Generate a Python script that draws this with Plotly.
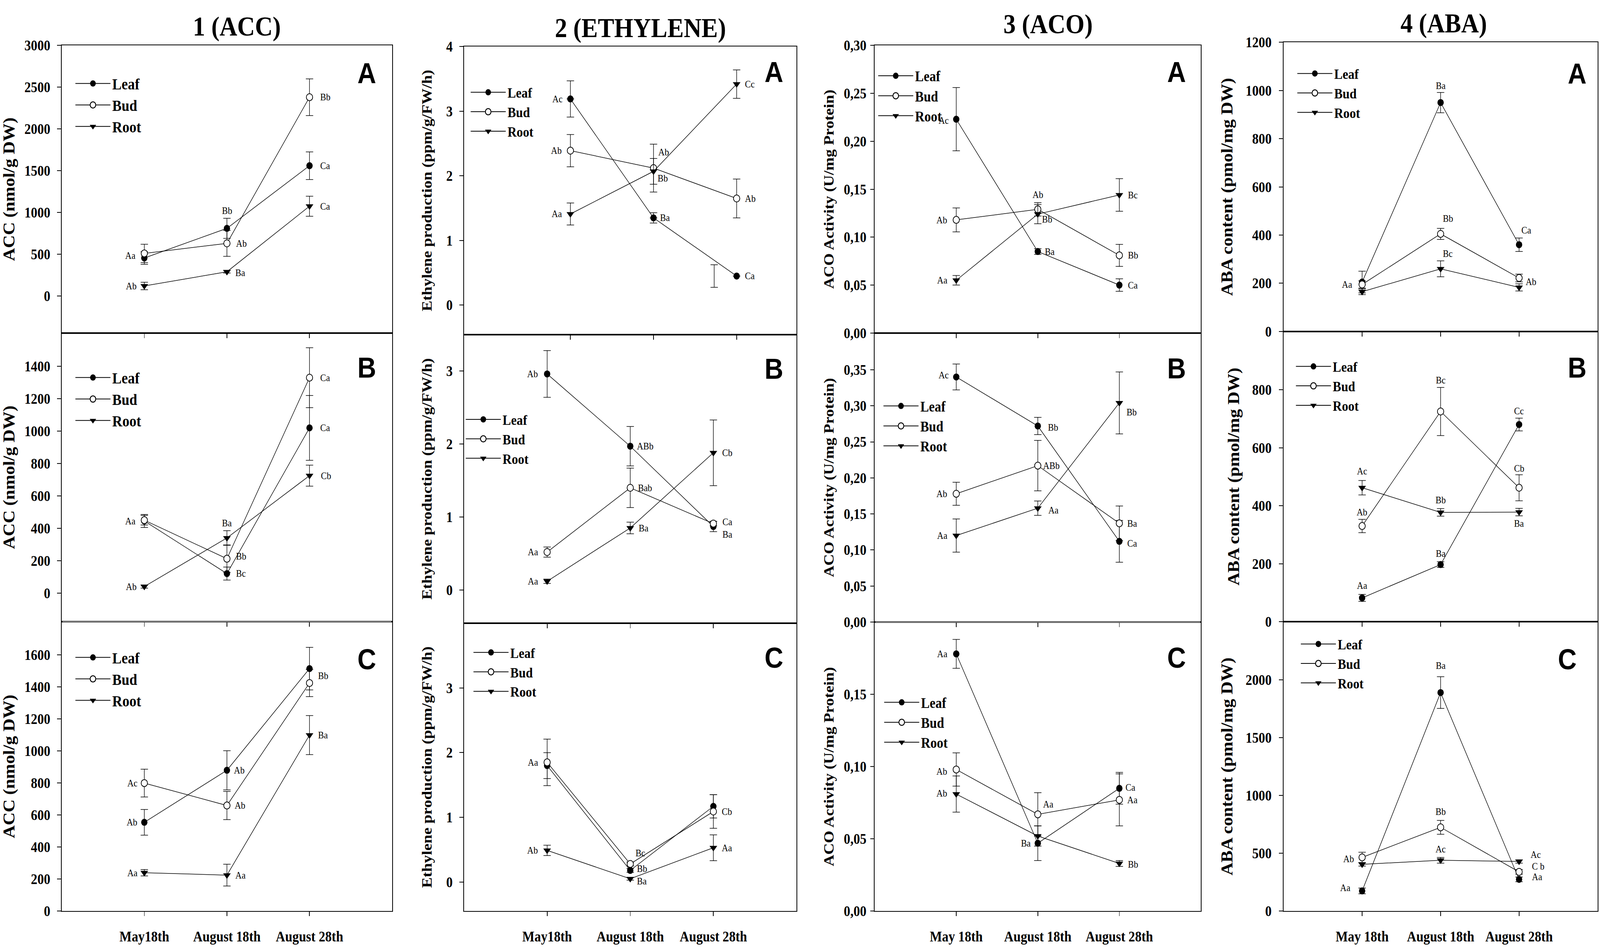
import plotly.graph_objects as go
from plotly.subplots import make_subplots

# ---------------- data ----------------
dates_12 = ["May18th", "August 18th", "August 28th"]
dates_34 = ["May 18th", "August 18th", "August 28th"]
organs = ["Leaf", "Bud", "Root"]

# 1 (ACC)  nmol/g DW
acc_a_leaf = [455, 810, 1560]
acc_a_bud = [510, 630, 2380]
acc_a_root = [120, 290, 1075]
acc_a_leaf_se = [75, 120, 165]
acc_a_bud_se = [110, 155, 220]
acc_a_root_se = [45, 15, 120]
acc_a_sig = [["Aa", "Bb", "Ca"], [None, "Ab", "Bb"], ["Ab", "Ba", "Ca"]]

acc_b_leaf = [445, 120, 1020]
acc_b_bud = [450, 212, 1330]
acc_b_root = [40, 340, 725]
acc_b_leaf_se = [40, 40, 200]
acc_b_bud_se = [30, 85, 185]
acc_b_root_se = [10, 45, 65]
acc_b_sig = [["Aa", "Bc", "Ca"], [None, "Bb", "Ca"], ["Ab", "Ba", "Cb"]]

acc_c_leaf = [555, 880, 1515]
acc_c_bud = [800, 660, 1425]
acc_c_root = [240, 225, 1100]
acc_c_leaf_se = [80, 122, 133]
acc_c_bud_se = [87, 88, 85]
acc_c_root_se = [20, 68, 122]
acc_c_sig = [["Ab", "Ab", None], ["Ac", "Ab", "Bb"], ["Aa", "Aa", "Ba"]]

# 2 (ETHYLENE)  ppm/g/FW/h
eth_a_leaf = [3.19, 1.35, 0.45]
eth_a_bud = [2.39, 2.12, 1.65]
eth_a_root = [1.41, 2.07, 3.42]
eth_a_leaf_se = [0.28, 0.08, 0.175]
eth_a_bud_se = [0.25, 0.37, 0.30]
eth_a_root_se = [0.17, 0.20, 0.22]
eth_a_leaf_bar_x = [0, 1, 1.73]   # last leaf error bar stands left of its point
eth_a_sig = [["Ac", "Ba", "Ca"], ["Ab", "Ab", "Ab"], ["Aa", "Bb", "Cc"]]

eth_b_leaf = [2.96, 1.97, 0.87]
eth_b_bud = [0.52, 1.40, 0.91]
eth_b_root = [0.12, 0.85, 1.88]
eth_b_leaf_se = [0.32, 0.27, 0.07]
eth_b_bud_se = [0.07, 0.27, 0.03]
eth_b_root_se = [0.03, 0.08, 0.45]
eth_b_sig = [["Ab", "ABb", "Ba"], ["Aa", "Bab", "Ca"], ["Aa", "Ba", "Cb"]]

eth_c_leaf = [1.80, 0.18, 1.17]
eth_c_bud = [1.85, 0.28, 1.09]
eth_c_root = [0.49, 0.05, 0.53]
eth_c_leaf_se = [0.20, 0.03, 0.18]
eth_c_bud_se = [0.36, 0.03, 0.26]
eth_c_root_se = [0.08, 0.02, 0.20]
eth_c_sig = [[None, "Bb", None], ["Aa", "Bc", "Cb"], ["Ab", "Ba", "Aa"]]

# 3 (ACO)  U/mg Protein
aco_a_leaf = [0.223, 0.085, 0.050]
aco_a_bud = [0.118, 0.129, 0.081]
aco_a_root = [0.055, 0.124, 0.144]
aco_a_leaf_se = [0.033, 0.003, 0.0065]
aco_a_bud_se = [0.0125, 0.007, 0.0115]
aco_a_root_se = [0.005, 0.010, 0.017]
aco_a_sig = [["Ac", "Ba", "Ca"], ["Ab", "Ab", "Bb"], ["Aa", "Bb", "Bc"]]

aco_b_leaf = [0.340, 0.272, 0.112]
aco_b_bud = [0.178, 0.217, 0.137]
aco_b_root = [0.120, 0.158, 0.304]
aco_b_leaf_se = [0.018, 0.012, 0.029]
aco_b_bud_se = [0.016, 0.035, 0.024]
aco_b_root_se = [0.023, 0.010, 0.043]
aco_b_sig = [["Ac", "Bb", "Ca"], ["Ab", "ABb", "Ba"], ["Aa", "Aa", "Bb"]]

aco_c_leaf = [0.178, 0.047, 0.085]
aco_c_bud = [0.098, 0.067, 0.077]
aco_c_root = [0.081, 0.052, 0.033]
aco_c_leaf_se = [0.010, 0.012, 0.011]
aco_c_bud_se = [0.0115, 0.015, 0.018]
aco_c_root_se = [0.0125, 0.007, 0.002]
aco_c_sig = [["Aa", "Ba", "Ca"], ["Ab", "Aa", "Aa"], ["Ab", None, "Bb"]]

# 4 (ABA)  pmol/mg DW
aba_a_leaf = [205, 950, 360]
aba_a_bud = [195, 405, 222]
aba_a_root = [165, 260, 183]
aba_a_leaf_se = [45, 42, 28]
aba_a_bud_se = [15, 23, 16]
aba_a_root_se = [12, 33, 15]
aba_a_sig = [[None, "Ba", "Ca"], ["Aa", "Bb", "Ab"], [None, "Bc", None]]

aba_b_leaf = [82, 197, 680]
aba_b_bud = [330, 725, 462]
aba_b_root = [462, 377, 378]
aba_b_leaf_se = [12, 10, 22]
aba_b_bud_se = [23, 83, 45]
aba_b_root_se = [25, 13, 13]
aba_b_sig = [["Aa", "Ba", "Cc"], ["Ab", "Bc", "Cb"], ["Ac", "Bb", "Ba"]]

aba_c_leaf = [175, 1890, 275]
aba_c_bud = [465, 725, 340]
aba_c_root = [405, 440, 430]
aba_c_leaf_se = [25, 137, 20]
aba_c_bud_se = [45, 60, 20]
aba_c_root_se = [15, 25, 15]
aba_c_sig = [["Aa", "Ba", "Aa"], ["Ab", "Bb", "C b"], [None, "Ac", "Ac"]]

# y ticks
acc_a_ticks = [0, 500, 1000, 1500, 2000, 2500, 3000]
acc_b_ticks = [0, 200, 400, 600, 800, 1000, 1200, 1400]
acc_c_ticks = [0, 200, 400, 600, 800, 1000, 1200, 1400, 1600]
eth_a_ticks = [0, 1, 2, 3, 4]
eth_bc_ticks = [0, 1, 2, 3]
aco_a_ticks = [0.0, 0.05, 0.10, 0.15, 0.20, 0.25, 0.30]
aco_b_ticks = [0.0, 0.05, 0.10, 0.15, 0.20, 0.25, 0.30, 0.35]
aco_c_ticks = [0.0, 0.05, 0.10, 0.15]
aba_a_ticks = [0, 200, 400, 600, 800, 1000, 1200]
aba_b_ticks = [0, 200, 400, 600, 800]
aba_c_ticks = [0, 500, 1000, 1500, 2000]

col_titles = ["1 (ACC)", "2 (ETHYLENE)", "3 (ACO)", "4 (ABA)"]
y_titles = ["ACC (nmol/g DW)", "Ethylene production (ppm/g/FW/h)",
            "ACO Activity (U/mg Protein)", "ABA content (pmol/mg DW)"]
panel_tags = ["A", "B", "C"]

# ---------------- placement of the letters (px from the point) ----------------
acc_a_place = [[(-24, 6), (0, 45), (28, 0)], [None, (24, 0), (28, 0)], [(-20, 0), (22, -3), (28, 0)]]
acc_b_place = [[(-24, 0), (24, 0), (28, 0)], [None, (24, 6), (28, 0)], [(-20, 0), (0, 38), (30, 0)]]
acc_c_place = [[(-18, 0), (18, 0), None], [(-18, 0), (20, 0), (22, 19)], [(-18, 0), (22, 0), (22, 0)]]
eth_a_place = [[(-20, 0), (17, 0), (22, 0)], [(-22, 0), (12, 41), (22, 0)], [(-22, 0), (10, -18), (22, 0)]]
eth_b_place = [[(-24, 0), (17, 0), (24, -20)], [(-24, 0), (20, 0), (24, 4)], [(-24, 0), (22, 0), (23, 0)]]
eth_c_place = [[None, (17, 5), None], [(-24, 0), (13, 28), (22, 0)], [(-24, 0), (17, -6), (22, 0)]]
aco_a_place = [[(-20, -3), (18, 0), (22, 0)], [(-24, 0), (0, 38), (22, 0)], [(-24, 0), (10, -13), (22, 0)]]
aco_b_place = [[(-20, 5), (27, -4), (20, -5)], [(-24, 0), (13, 0), (20, 0)], [(-24, 0), (28, -5), (18, -24)]]
aco_c_place = [[(-24, 0), (-18, 0), (15, 2)], [(-24, -5), (13, 26), (20, 0)], [(-24, 2), None, (22, -2)]]
aba_a_place = [[None, (0, 43), (5, 37)], [(-27, 0), (4, 39), (17, -10)], [None, (4, 39), None]]
aba_b_place = [[(0, 32), (0, 28), (0, 35)], [(0, 36), (0, 80), (0, 50)], [(0, 43), (0, 32), (0, -29)]]
aba_c_place = [[(-32, 8), (0, 69), (35, 6)], [(-21, -4), (0, 40), (35, 14)], [None, (0, 29), (31, 18)]]

# ---------------- geometry (px measured on the 4562 x 2438 original) ----------------
W, H = 4562, 2438
col_x = [(176, 1118), (1323, 2271), (2494, 3424), (3660, 4555)]
row_edges = [(98, 847, 1599, 2353), (101, 851, 1603, 2353),
             (98, 847, 1600, 2353), (90, 843, 1599, 2353)]
grey_sep_cols = [1, 3]          # B/C border drawn in light grey there
title_pos = [(675, 48), (1826, 52), (2988, 42), (4116, 40)]
tag_off = [[(73, 72), (73, 90), (73, 98)], [(65, 66), (65, 89), (65, 90)],
           [(70, 69), (70, 92), (70, 93)], [(59, 81), (59, 94), (87, 98)]]
legend_pos = [[(220, 196), (220, 962), (220, 1691)],
              [(1347, 219), (1333, 1071), (1355, 1678)],
              [(2509, 176), (2524, 1036), (2526, 1808)],
              [(3704, 170), (3700, 933), (3714, 1656)]]
legend_fs = [40, 36, 37, 36]
legend_itemw = 100
ytitle_fs = [46, 41, 41, 46]
ytitle_standoff = [18, 28, 16, 22]
ylabel_standoff = [12, 12, 3, 14]

SERIF = "Liberation Serif"
SANS = "Liberation Sans"


def comma(v):
    return f"{v:.2f}".replace(".", ",")


panels = {
    (1, 1): dict(vals=[acc_a_leaf, acc_a_bud, acc_a_root], se=[acc_a_leaf_se, acc_a_bud_se, acc_a_root_se],
                 sig=acc_a_sig, place=acc_a_place, ticks=acc_a_ticks, text=[str(t) for t in acc_a_ticks],
                 yr=[-443, 3000], xr=[-1, 3]),
    (2, 1): dict(vals=[acc_b_leaf, acc_b_bud, acc_b_root], se=[acc_b_leaf_se, acc_b_bud_se, acc_b_root_se],
                 sig=acc_b_sig, place=acc_b_place, ticks=acc_b_ticks, text=[str(t) for t in acc_b_ticks],
                 yr=[-177, 1606], xr=[-1, 3]),
    (3, 1): dict(vals=[acc_c_leaf, acc_c_bud, acc_c_root], se=[acc_c_leaf_se, acc_c_bud_se, acc_c_root_se],
                 sig=acc_c_sig, place=acc_c_place, ticks=acc_c_ticks, text=[str(t) for t in acc_c_ticks],
                 yr=[0, 1808], xr=[-1, 3]),
    (1, 2): dict(vals=[eth_a_leaf, eth_a_bud, eth_a_root], se=[eth_a_leaf_se, eth_a_bud_se, eth_a_root_se],
                 sig=eth_a_sig, place=eth_a_place, ticks=eth_a_ticks, text=[str(t) for t in eth_a_ticks],
                 yr=[-0.455, 4], xr=[-1.28, 2.72], leaf_bar_x=eth_a_leaf_bar_x),
    (2, 2): dict(vals=[eth_b_leaf, eth_b_bud, eth_b_root], se=[eth_b_leaf_se, eth_b_bud_se, eth_b_root_se],
                 sig=eth_b_sig, place=eth_b_place, ticks=eth_bc_ticks, text=[str(t) for t in eth_bc_ticks],
                 yr=[-0.455, 3.5], xr=[-1, 3]),
    (3, 2): dict(vals=[eth_c_leaf, eth_c_bud, eth_c_root], se=[eth_c_leaf_se, eth_c_bud_se, eth_c_root_se],
                 sig=eth_c_sig, place=eth_c_place, ticks=eth_bc_ticks, text=[str(t) for t in eth_bc_ticks],
                 yr=[-0.45, 4.0], xr=[-1, 3]),
    (1, 3): dict(vals=[aco_a_leaf, aco_a_bud, aco_a_root], se=[aco_a_leaf_se, aco_a_bud_se, aco_a_root_se],
                 sig=aco_a_sig, place=aco_a_place, ticks=aco_a_ticks, text=[comma(t) for t in aco_a_ticks],
                 yr=[0, 0.30], xr=[-1, 3]),
    (2, 3): dict(vals=[aco_b_leaf, aco_b_bud, aco_b_root], se=[aco_b_leaf_se, aco_b_bud_se, aco_b_root_se],
                 sig=aco_b_sig, place=aco_b_place, ticks=aco_b_ticks, text=[comma(t) for t in aco_b_ticks],
                 yr=[0, 0.401], xr=[-1, 3]),
    (3, 3): dict(vals=[aco_c_leaf, aco_c_bud, aco_c_root], se=[aco_c_leaf_se, aco_c_bud_se, aco_c_root_se],
                 sig=aco_c_sig, place=aco_c_place, ticks=aco_c_ticks, text=[comma(t) for t in aco_c_ticks],
                 yr=[0, 0.20], xr=[-1, 3]),
    (1, 4): dict(vals=[aba_a_leaf, aba_a_bud, aba_a_root], se=[aba_a_leaf_se, aba_a_bud_se, aba_a_root_se],
                 sig=aba_a_sig, place=aba_a_place, ticks=aba_a_ticks, text=[str(t) for t in aba_a_ticks],
                 yr=[0, 1200], xr=[-1, 3]),
    (2, 4): dict(vals=[aba_b_leaf, aba_b_bud, aba_b_root], se=[aba_b_leaf_se, aba_b_bud_se, aba_b_root_se],
                 sig=aba_b_sig, place=aba_b_place, ticks=aba_b_ticks, text=[str(t) for t in aba_b_ticks],
                 yr=[0, 1001], xr=[-1, 3]),
    (3, 4): dict(vals=[aba_c_leaf, aba_c_bud, aba_c_root], se=[aba_c_leaf_se, aba_c_bud_se, aba_c_root_se],
                 sig=aba_c_sig, place=aba_c_place, ticks=aba_c_ticks, text=[str(t) for t in aba_c_ticks],
                 yr=[0, 2503], xr=[-1, 3]),
}


def marker(k, size, lw):
    if k == 0:
        return dict(symbol="circle", size=size, color="black", line=dict(width=0))
    if k == 1:
        return dict(symbol="circle", size=size, color="white", line=dict(width=lw, color="black"))
    return dict(symbol="triangle-down", size=size + 1, color="black", line=dict(width=0))


def err(arr):
    return dict(type="data", array=arr, visible=True, color="black", thickness=1.5, width=10.5)


fig = make_subplots(rows=3, cols=4)
annotations = []
shapes = []

for (r, c), p in panels.items():
    idx = (r - 1) * 4 + c
    xref = "x" if idx == 1 else f"x{idx}"
    yref = "y" if idx == 1 else f"y{idx}"
    lname = "legend" if idx == 1 else f"legend{idx}"
    xs = [0, 1, 2]

    for k, organ in enumerate(organs):
        se = list(p["se"][k])
        bar_x = p.get("leaf_bar_x") if k == 0 else None
        if bar_x is not None:
            fig.add_trace(go.Scatter(x=bar_x, y=p["vals"][k], mode="markers",
                                     marker=dict(size=1, color="rgba(0,0,0,0)"),
                                     error_y=err(se), showlegend=False, hoverinfo="skip"),
                          row=r, col=c)
            se = [0, 0, 0]
        fig.add_trace(go.Scatter(x=xs, y=p["vals"][k], name=organ, mode="lines+markers",
                                 line=dict(color="black", width=1.5), marker=marker(k, 18, 2),
                                 error_y=err(se), showlegend=False, cliponaxis=False),
                      row=r, col=c)
        # legend entry (the original draws larger symbols in the key)
        fig.add_trace(go.Scatter(x=[None], y=[None], name=organ, mode="lines+markers",
                                 line=dict(color="black", width=2), marker=marker(k, 26, 2.5),
                                 legend=lname, showlegend=True, hoverinfo="skip"),
                      row=r, col=c)

        for i in range(3):
            txt = p["sig"][k][i]
            if txt is None:
                continue
            dx, dy = p["place"][k][i]
            annotations.append(dict(
                x=xs[i], y=p["vals"][k][i], xref=xref, yref=yref, text=txt, showarrow=False,
                xanchor="left" if dx > 0 else ("right" if dx < 0 else "center"),
                yanchor="middle", xshift=dx, yshift=dy,
                font=dict(family=SERIF, size=25, color="black")))

    x0, x1 = col_x[c - 1]
    top, bot = row_edges[c - 1][r - 1], row_edges[c - 1][r]
    fig.update_xaxes(domain=[x0 / W, x1 / W], range=p["xr"], tickvals=xs,
                     ticktext=dates_12 if c <= 2 else dates_34,
                     showticklabels=(r == 3), ticks="outside", ticklen=11, tickwidth=2,
                     tickcolor="black", showline=True, linewidth=2, linecolor="black",
                     mirror=True, showgrid=False, zeroline=False, ticklabelstandoff=20,
                     tickfont=dict(family=SERIF, size=37, color="black", weight="bold"),
                     row=r, col=c)
    fig.update_yaxes(domain=[1 - bot / H, 1 - top / H], range=p["yr"], tickvals=p["ticks"],
                     ticktext=p["text"], ticks="outside", ticklen=11, tickwidth=2,
                     tickcolor="black", showline=True, linewidth=2, linecolor="black",
                     mirror=True, showgrid=False, zeroline=False,
                     ticklabelstandoff=ylabel_standoff[c - 1],
                     tickfont=dict(family=SERIF, size=37, color="black", weight="bold"),
                     title=dict(text=y_titles[c - 1], standoff=ytitle_standoff[c - 1],
                                font=dict(family=SERIF, size=ytitle_fs[c - 1], color="black",
                                          weight="bold")),
                     row=r, col=c)

    if r == 3 and c in grey_sep_cols:
        shapes.append(dict(type="line", xref="paper", yref="paper", layer="above",
                           x0=(x0 + 2) / W, x1=(x1 - 2) / W, y0=1 - top / H, y1=1 - top / H,
                           line=dict(color="#a9a9a9", width=2)))

    # panel tag
    ox, oy = tag_off[c - 1][r - 1]
    annotations.append(dict(x=(x1 - ox) / W, y=1 - (top + oy) / H, xref="paper", yref="paper",
                            text=panel_tags[r - 1], showarrow=False, xanchor="center",
                            yanchor="middle",
                            font=dict(family=SANS, size=74, color="black", weight="bold")))

    # legend box
    lx, ly = legend_pos[c - 1][r - 1]
    fs = legend_fs[c - 1]
    fig.update_layout({lname: dict(x=(lx - 10) / W, y=1 - (ly - 0.65 * fs - 6) / H,
                                   xanchor="left", yanchor="top", bgcolor="rgba(0,0,0,0)",
                                   borderwidth=0, itemwidth=legend_itemw, tracegroupgap=0,
                                   font=dict(family=SERIF, size=fs, color="black",
                                             weight="bold"))})

for c, t in enumerate(col_titles):
    tx, ty = title_pos[c]
    annotations.append(dict(x=tx / W, y=1 - ty / H, xref="paper", yref="paper", text=t,
                            showarrow=False, xanchor="center", yanchor="middle",
                            font=dict(family=SERIF, size=70, color="black", weight="bold")))

fig.update_layout(width=W, height=H, margin=dict(l=0, r=0, t=0, b=0),
                  plot_bgcolor="white", paper_bgcolor="white",
                  annotations=annotations, shapes=shapes, showlegend=True)

# the figure is laid out at 4562 x 2438; stretch it onto whatever the window offers
fit_page = """
var gd = document.getElementById('{plot_id}');
var vw = window.innerWidth, vh = window.innerHeight;
document.documentElement.style.overflow = 'hidden';
document.body.style.margin = '0px';
document.body.style.overflow = 'hidden';
var wrap = gd.parentElement;
wrap.style.width = vw + 'px';
wrap.style.height = vh + 'px';
wrap.style.overflow = 'hidden';
gd.style.transformOrigin = '0 0';
gd.style.transform = 'scale(' + (vw / %d) + ',' + (vh / %d) + ')';
""" % (W, H)
fig.write_html("out.html", config={"displayModeBar": False}, post_script=fit_page)
